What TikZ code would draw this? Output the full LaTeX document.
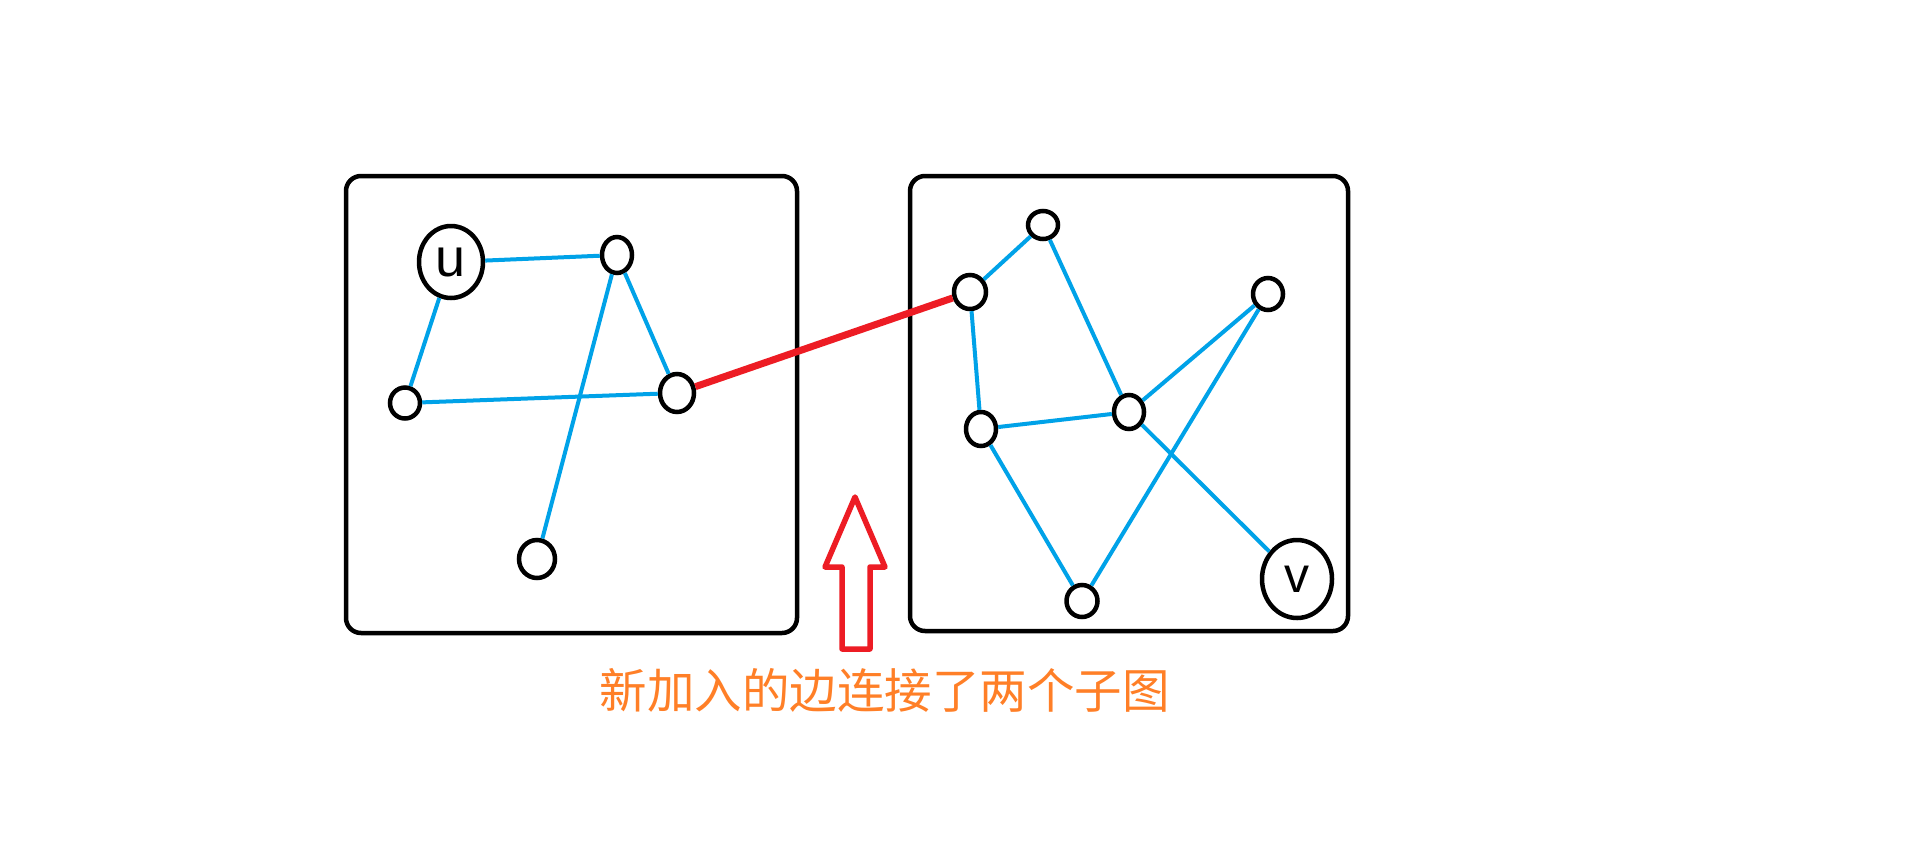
\documentclass[tikz,border=0pt]{standalone}
\usepackage{fontspec}
\setmainfont{Liberation Sans}
\newfontfamily\cjkfont{Noto Sans CJK SC}
\usetikzlibrary{shapes.geometric}
\definecolor{pblue}{RGB}{0,162,232}
\definecolor{pred}{RGB}{237,28,36}
\definecolor{porange}{RGB}{255,127,39}
\begin{document}
\begin{tikzpicture}[x=1pt,y=-1pt,
  vtx/.style={draw=black,line width=4.5pt,ellipse,inner sep=0pt},
  frame/.style={draw=black,line width=4.5pt,rounded corners=15pt},
  link/.style={draw=pblue,line width=4pt},
  newlink/.style={draw=pred,line width=7pt},
  lbl/.style={font=\fontsize{54}{54}\selectfont}]
\useasboundingbox[fill=white] (0,0) rectangle (1906,852);
% frames
\draw[frame] (346,176) rectangle (797,633);
\draw[frame] (910,176) rectangle (1348,631);
% left subgraph
\node[vtx,minimum width=64pt,minimum height=72pt,lbl] (u) at (451,262) {u};
\node[vtx,minimum width=30pt,minimum height=36pt] (n1) at (617,255) {};
\node[vtx,minimum width=30pt,minimum height=31pt] (n2) at (405,403) {};
\node[vtx,minimum width=34pt,minimum height=38pt] (n3) at (677,393) {};
\node[vtx,minimum width=36pt,minimum height=38pt] (n4) at (537,559) {};
% right subgraph
\node[vtx,minimum width=30pt,minimum height=28pt] (a) at (1043,225) {};
\node[vtx,minimum width=32pt,minimum height=34pt] (b) at (970,292) {};
\node[vtx,minimum width=30pt,minimum height=32pt] (c) at (1268,294) {};
\node[vtx,minimum width=30pt,minimum height=34pt] (d) at (1129,412) {};
\node[vtx,minimum width=30pt,minimum height=34pt] (e) at (981,429) {};
\node[vtx,minimum width=31pt,minimum height=32pt] (f) at (1082,601) {};
\node[vtx,minimum width=70pt,minimum height=78pt,font=\fontsize{50}{50}\selectfont] (v) at (1297,579) {v};
% edges
\path[link] (u) -- (n1);
\path[link] (u) -- (n2);
\path[link] (n2) -- (n3);
\path[link] (n1) -- (n3);
\path[link] (n1) -- (n4);
\path[link] (b) -- (a);
\path[link] (a) -- (d);
\path[link] (b) -- (e);
\path[link] (e) -- (d);
\path[link] (d) -- (c);
\path[link] (c) -- (f);
\path[link] (e) -- (f);
\path[link] (d) -- (v);
\path[newlink] (n3) -- (b);
% arrow
\draw[draw=pred,line width=5.5pt,line join=round]
  (855,497) -- (885,567) -- (870,567) -- (870,649) -- (842,649)
  -- (842,567) -- (825,567) -- cycle;
% caption
\node[text=porange,font=\cjkfont\fontsize{47.5}{47.5}\selectfont,inner sep=0pt] (cap) at (884.5,690) {新加入的边连接了两个子图};
\end{tikzpicture}
\end{document}
